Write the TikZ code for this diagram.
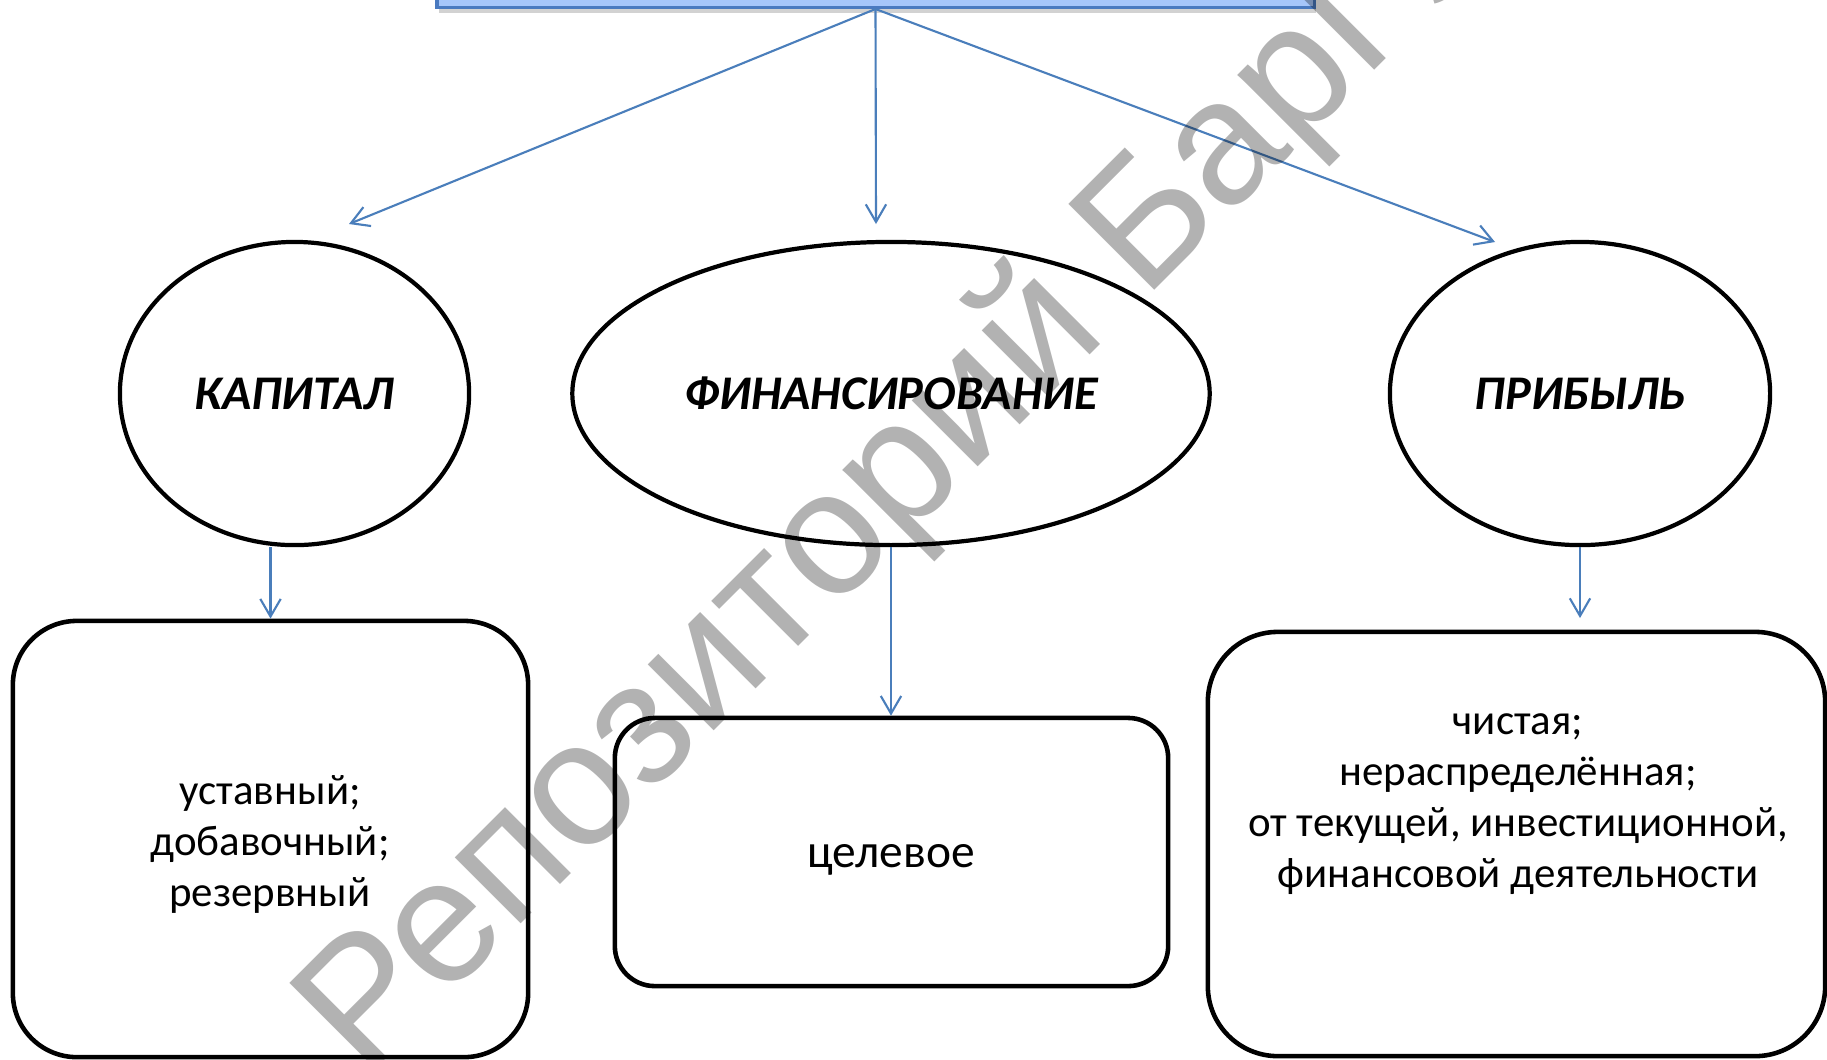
\documentclass[tikz,border=0pt]{standalone}
\usepackage{fontspec}
\setmainfont{Carlito}
\newfontfamily\wmfont{Liberation Sans}
\usetikzlibrary{arrows.meta,shapes.geometric,shadows}
\definecolor{arrblue}{HTML}{4A7EBB}
\definecolor{topfill}{HTML}{A6C6FA}
\definecolor{topdraw}{HTML}{4A7AC0}
\tikzset{
  conn/.style={draw=arrblue, line width=0.6pt, -{Straight Barb[length=5pt,width=5.8pt]}},
  oval/.style={ellipse, draw=black, line width=1.2pt, fill=white, inner sep=0pt,
     font=\fontsize{13.75pt}{15pt}\selectfont\bfseries\itshape},
  rbox/.style={rectangle, draw=black, line width=1.3pt, fill=white, inner sep=0pt},
  btext/.style={align=center, inner sep=0pt, font=\fontsize{12.2pt}{14.5pt}\selectfont},
  bigtext/.style={align=center, inner sep=0pt, font=\fontsize{13.5pt}{15pt}\selectfont},
  topbox/.style={rectangle, draw=topdraw, line width=1pt, fill=topfill, inner sep=0pt,
     drop shadow={shadow xshift=0.5pt, shadow yshift=-1.6pt, opacity=0.35}},
  wmark/.style={inner sep=0pt, fill opacity=0.3, text opacity=0.3, text=black,
     font=\wmfont\fontsize{50.2pt}{60pt}\selectfont}
}
\begin{document}
\begin{tikzpicture}[x=0.01cm, y=-0.01cm]
\useasboundingbox (0,0) rectangle (1827,1059);
\clip (0,0) rectangle (1827,1059);
\fill[white] (0,0) rectangle (1827,1059);

% top box (cut off by the upper edge)
\node[topbox, minimum width=8.77cm, minimum height=0.8cm, anchor=south] (top) at (875.5,9) {};

% ellipses
\node[oval, minimum width=3.49cm, minimum height=3.03cm] (kap) at (294.5,393.5) {КАПИТАЛ};
\node[oval, minimum width=6.37cm, minimum height=3.03cm] (fin) at (891,393.5) {ФИНАНСИРОВАНИЕ};
\node[oval, minimum width=3.80cm, minimum height=3.03cm] (prib) at (1580,393.5) {ПРИБЫЛЬ};

% rounded boxes
\node[rbox, rounded corners=0.64cm, minimum width=5.15cm, minimum height=4.36cm] (b1) at (270.5,839) {};
\node[rbox, rounded corners=0.40cm, minimum width=5.53cm, minimum height=2.68cm] (b2) at (891.5,852) {};
\node[rbox, rounded corners=0.70cm, minimum width=6.17cm, minimum height=4.24cm] (b3) at (1516.5,844) {};

\node[btext] (t1) at (270,844) {уставный;\\добавочный;\\резервный};
\node[bigtext] (t2) at (891,860) {целевое};
\node[btext] (t3) at (1518,804)
  {чистая;\\нераспределённая;\\от текущей, инвестиционной,\\финансовой деятельности};

% arrow end points
\coordinate (e1) at (349,224);
\coordinate (e2) at (876,224);
\coordinate (e3) at (1495,242);
\coordinate (e6) at (1580,618);

\draw[conn] (top.south) -- (e1);
\draw[conn] (top.south) -- (e2);
\draw[conn] (top.south) -- (e3);

\draw[conn] (kap.south -| b1.north) -- (b1.north);
\draw[conn] (fin.south) -- (fin.south |- b2.north);
\draw[conn] (prib.south) -- (e6);

% watermark
\node[wmark, rotate=45, anchor=base west] (wm) at (365,1080) {Репозиторий БарГУ};
\end{tikzpicture}
\end{document}
